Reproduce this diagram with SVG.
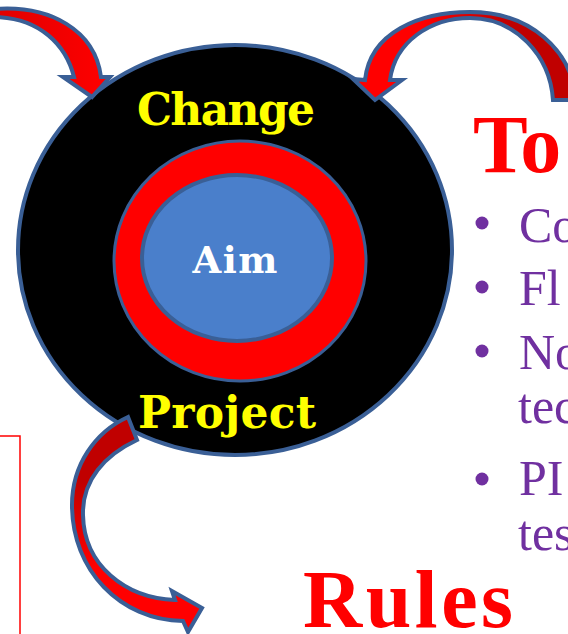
<svg xmlns="http://www.w3.org/2000/svg" width="568" height="634" viewBox="0 0 568 634">
<defs>
<style>
.ol{stroke:#3A5F96;stroke-width:4;stroke-linejoin:miter}
.lbl{font-family:"DejaVu Serif","Liberation Serif",serif;font-weight:bold}
.title{font-family:"Liberation Serif","DejaVu Serif",serif;font-weight:bold;fill:#FF0000}
.bul{font-family:"Liberation Serif","DejaVu Serif",serif;font-size:50px;fill:#7030A0}
</style>
<linearGradient id="g1" x1="0" y1="0" x2="1" y2="0">
<stop offset="0" stop-color="#E00000"/><stop offset="1" stop-color="#FF0000"/>
</linearGradient>
<linearGradient id="g2" x1="0" y1="0" x2="1" y2="0">
<stop offset="0.3" stop-color="#FF0000"/><stop offset="0.7" stop-color="#C00000"/>
</linearGradient>
<linearGradient id="g3" x1="0" y1="0" x2="0" y2="1">
<stop offset="0.3" stop-color="#C00000"/><stop offset="0.7" stop-color="#FF0000"/>
</linearGradient>
</defs>
<rect width="568" height="634" fill="#FFFFFF"/>
<rect x="-10" y="436" width="30" height="220" fill="none" stroke="#FF0000" stroke-width="1.5"/>
<g id="outer">
<ellipse cx="235" cy="250" rx="217" ry="205" fill="#000000" class="ol"/>
<text x="226" y="125" class="lbl" font-size="44" fill="#FFFF00" text-anchor="middle" textLength="178">Change</text>
<text x="227" y="428" class="lbl" font-size="44" fill="#FFFF00" text-anchor="middle" textLength="178">Project</text>
</g>
<g id="ring">
<ellipse cx="240" cy="261" rx="126" ry="120" fill="#FF0000" stroke="#3A5F96" stroke-width="3"/>
</g>
<g id="aim">
<ellipse cx="237" cy="258" rx="95" ry="83" fill="#4A7FCB" class="ol"/>
<text x="235" y="273" class="lbl" font-size="37" fill="#FFFFFF" text-anchor="middle" textLength="85">Aim</text>
</g>
<g id="connectors">
<path class="ol" fill="url(#g1)" d="M -5,9 C 50,5 95,30 101,77 L 110,77 L 92,97 L 63,77 L 74,77 C 66,45 40,18 -5,17 Z"/>
<path class="ol" fill="url(#g2)" d="M 365,80 C 370,32 420,12 470,12 C 530,12 572,50 576,100 L 553,100 C 550,55 515,18 470,18 C 430,18 395,42 390,80 L 402,80 L 375,100 L 353,79 Z"/>
<path class="ol" fill="url(#g3)" d="M 128,417 C 95,432 72,465 72,505 C 72,570 120,620 183,621 L 188,632 L 202,608 L 172,591 L 175,600 C 125,598 84,565 83,515 C 82,480 105,455 137,440 Z"/>
</g>
<g id="tools">
<text x="473" y="172" class="title" font-size="82">To</text>
<circle cx="482" cy="223" r="6.5" fill="#7030A0"/>
<circle cx="482" cy="287" r="6.5" fill="#7030A0"/>
<circle cx="482" cy="351" r="6.5" fill="#7030A0"/>
<circle cx="482" cy="479" r="6.5" fill="#7030A0"/>
<text x="519" y="242" class="bul">Co</text>
<text x="519" y="305" class="bul">Fl</text>
<text x="519" y="369" class="bul">No</text>
<text x="518" y="423" class="bul">tec</text>
<text x="519" y="495" class="bul">PI</text>
<text x="518" y="550" class="bul">tes</text>
</g>
<g id="rules">
<text x="303" y="627" class="title" font-size="82" textLength="210">Rules</text>
</g>
</svg>
